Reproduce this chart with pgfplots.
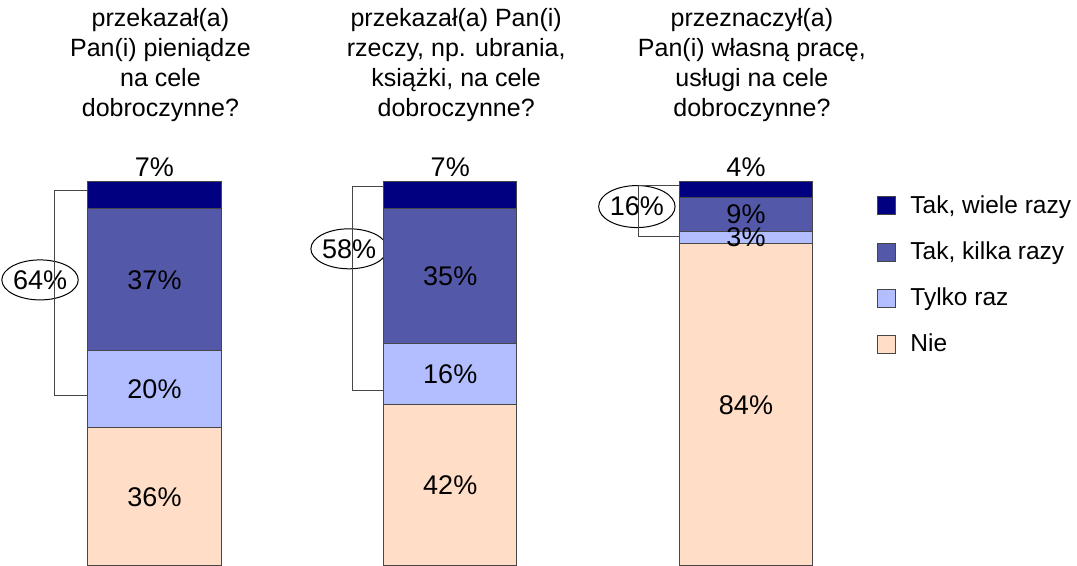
\documentclass[border=0pt]{standalone}
\usepackage{pgfplots}
\pgfplotsset{compat=1.18}
\usetikzlibrary{shapes.geometric}
\usepackage{fontspec}
\setmainfont{Liberation Sans}
\definecolor{cWiele}{RGB}{0,0,128}
\definecolor{cKilka}{RGB}{84,88,168}
\definecolor{cRaz}{RGB}{178,190,255}
\definecolor{cNie}{RGB}{255,221,198}
\definecolor{cEdge}{RGB}{70,70,70}
\pgfplotsset{
  midlabel/.style={nodes near coords={\pgfmathprintnumber{\pgfplotspointmeta}\%},
    every node near coord/.style={font=\fontsize{13.5}{16}\selectfont, text=black, inner sep=0pt,
      anchor=center}},
  toplabel/.style={nodes near coords={\pgfmathprintnumber{\pgfplotspointmeta}\%},
    every node near coord/.style={font=\fontsize{13.5}{16}\selectfont, text=black, inner sep=0pt,
      anchor=base, shift={(axis direction cs:0,\rawy/2)}, yshift=2.5pt}},
}
\tikzset{
  pctnode/.style={draw=black, line width=0.5pt, fill=white, ellipse, inner sep=0pt,
    minimum width=32.5pt, minimum height=20pt, font=\fontsize{13.5}{16}\selectfont},
  ttl/.style={anchor=north, align=center, inner sep=0pt, font=\fontsize{12.5}{15}\selectfont},
}
\begin{document}
\begin{tikzpicture}
\begin{axis}[
  scale only axis, width=538.5pt, height=192pt,
  xmin=-0.5224, xmax=3.1192, ymin=0, ymax=100,
  hide axis, clip=false,
  ybar stacked, bar width=0.45,
  point meta=explicit,
  /pgf/number format/assume math mode=true,
  visualization depends on={rawy \as \rawy},
  reverse legend,
  legend cell align=left,
  legend style={draw=none, fill=none, at={(axis cs:2.443,97.6)}, anchor=north west,
    inner sep=0pt, font=\fontsize{12.25}{14}\selectfont, row sep=8.7pt,
    /tikz/every odd column/.append style={column sep=5pt}},
  legend image code/.code={\draw[#1] (0pt,-4.5pt) rectangle (9pt,4.5pt);},
]
\addplot[fill=cNie, draw=cEdge, line width=0.5pt, midlabel] coordinates {(0,36) [36] (1,42) [42] (2,84) [84]};
\addlegendentry{Nie}
\addplot[fill=cRaz, draw=cEdge, line width=0.5pt, midlabel] coordinates {(0,20) [20] (1,16) [16] (2,3) [3]};
\addlegendentry{Tylko raz}
\addplot[fill=cKilka, draw=cEdge, line width=0.5pt, midlabel] coordinates {(0,37) [37] (1,35) [35] (2,9) [9]};
\addlegendentry{Tak, kilka razy}
\addplot[fill=cWiele, draw=cEdge, line width=0.5pt, toplabel] coordinates {(0,7) [7] (1,7) [7] (2,4) [4]};
\addlegendentry{Tak, wiele razy}

% brackets
\draw[cEdge, line width=0.5pt] (axis cs:-0.225,97.9) -- (axis cs:-0.3398,97.9) -- (axis cs:-0.3398,44.5) -- (axis cs:-0.218,44.5);
\node[pctnode] at (axis cs:-0.387,74.5) {64\%};

\draw[cEdge, line width=0.5pt] (axis cs:0.775,98.7) -- (axis cs:0.671,98.7) -- (axis cs:0.671,45.8) -- (axis cs:0.782,45.8);
\node[pctnode] at (axis cs:0.658,82.6) {58\%};

\draw[cEdge, line width=0.5pt] (axis cs:1.775,99.2) -- (axis cs:1.638,99.2) -- (axis cs:1.638,85.9) -- (axis cs:1.782,85.9);
\node[pctnode, minimum width=32pt, minimum height=21pt] at (axis cs:1.631,93.6) {16\%};

% titles
\node[ttl] at (axis cs:0.02,145.3) {przekazał(a)\\Pan(i) pieniądze\\na cele\\dobroczynne?};
\node[ttl] at (axis cs:1.02,145.3) {przekazał(a) Pan(i)\\rzeczy, np. ubrania,\\książki, na cele\\dobroczynne?};
\node[ttl] at (axis cs:2.02,145.3) {przeznaczył(a)\\Pan(i) własną pracę,\\usługi na cele\\dobroczynne?};

\coordinate (bl) at (axis cs:-0.5224,0);
\coordinate (tr) at (axis cs:3.1192,147.396);
\end{axis}
\pgfresetboundingbox
\useasboundingbox (bl) rectangle (tr);
\end{tikzpicture}
\end{document}
